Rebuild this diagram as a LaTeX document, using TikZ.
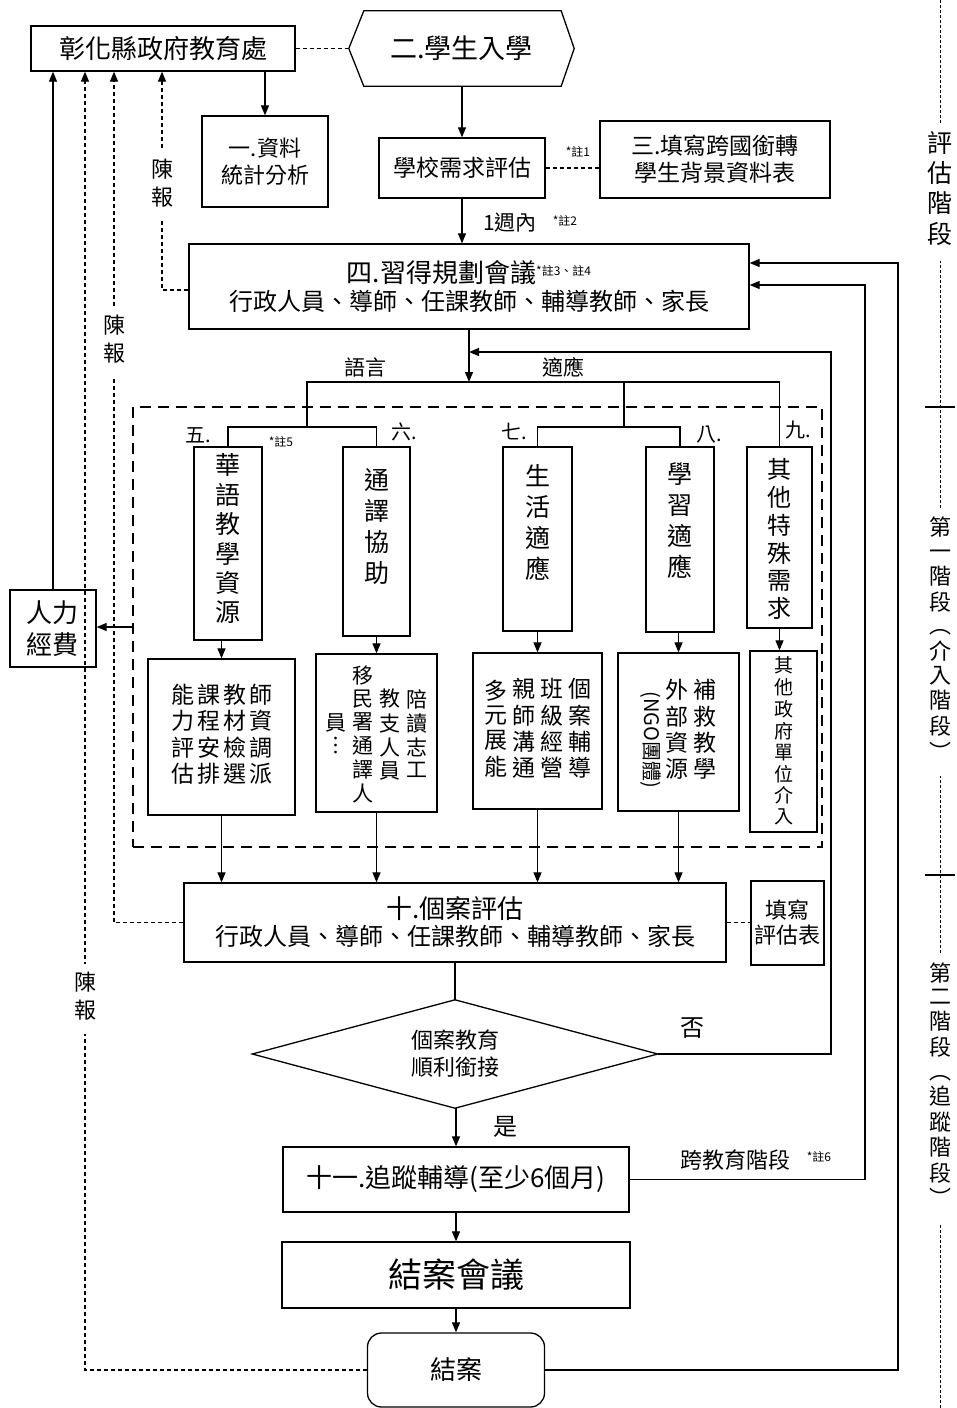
\documentclass[tikz,border=0pt]{standalone}
\usepackage{fontspec}
\usepackage{graphicx}
\setmainfont{Noto Sans CJK TC}
\usetikzlibrary{arrows.meta}
\newcommand{\fsz}[2]{\fontsize{#1}{#2}\selectfont}
\newcommand{\vstk}[1]{\begin{tabular}[c]{@{}c@{}}#1\end{tabular}}
\begin{document}
\begin{tikzpicture}[x=1pt,y=-1pt,
  box/.style={draw,line width=1.3pt,inner sep=0pt,align=center},
  arr/.style={line width=1.2pt,-{Triangle[length=10pt,width=8pt]}},
  ln/.style={line width=1.2pt},
  dsh/.style={line width=1.2pt,dash pattern=on 4pt off 3pt},
  lbl/.style={inner sep=0pt,align=center},
  note/.style={inner sep=0pt,font=\fsz{12}{12}},
  gap/.style={inner sep=0pt,inner ysep=7pt,fill=white,align=center},
]
\fill[white] (0,0) rectangle (957,1408);
\useasboundingbox (0,0) rectangle (957,1408);

% top
\node[box,minimum width=264pt,minimum height=45pt,font=\fsz{26}{26}] (edu) at (163,48.5) {彰化縣政府教育處};
\node[lbl,minimum width=225pt,minimum height=75pt,font=\fsz{27}{27}] (enroll) at (461.5,48.5) {二.學生入學};
\draw[line width=1.3pt] (enroll.west) -- ([xshift=15pt]enroll.north west) -- ([xshift=-13pt]enroll.north east) -- (enroll.east) -- ([xshift=-13pt]enroll.south east) -- ([xshift=15pt]enroll.south west) -- cycle;
\draw[dsh] (edu.east) -- (enroll.west);

\node[box,minimum width=126pt,minimum height=91pt,font=\fsz{22}{27}] (stat) at (265,161.5) {一.資料\\統計分析};
\node[box,minimum width=166pt,minimum height=60pt,font=\fsz{23}{23}] (need) at (462,168) {學校需求評估};
\node[box,minimum width=230pt,minimum height=77pt,font=\fsz{23}{27}] (form) at (715,159.5) {三.填寫跨國銜轉\\學生背景資料表};
\node[note] (n1) at (578,152) {*註1};
\draw[dsh] (need.east) -- (need.east -| form.west);
\draw[arr] (enroll.south -| need.north) -- (need.north);
\draw[arr] (edu.south -| stat.north) -- (stat.north);

% plan
\node[box,minimum width=560pt,minimum height=85pt,font=\fsz{24}{28}] (plan) at (469,286.5) {{\fsz{26}{28}四.習得規劃會議}\raisebox{7pt}{\fsz{12}{12}*註3、註4}\\行政人員、導師、任課教師、輔導教師、家長};
\draw[arr] (need.south) -- (need.south |- plan.north);
\node[lbl,font=\fsz{21}{21}] (wk) at (510,223) {1週內};
\node[note] (n2) at (565,221) {*註2};

% group
\node[draw,line width=2.6pt,dash pattern=on 11pt off 7pt,minimum width=689pt,minimum height=440pt,inner sep=0pt] (grp) at (477.5,627) {};

% top row boxes
\node[box,minimum width=68pt,minimum height=193pt] (t5) at (228,543.5) {};
\node[box,minimum width=67pt,minimum height=189pt] (t6) at (376.5,541.5) {};
\node[box,minimum width=69pt,minimum height=184pt] (t7) at (537.5,539) {};
\node[box,minimum width=68pt,minimum height=185pt] (t8) at (680,539.5) {};
\node[box,minimum width=65pt,minimum height=181pt] (t9) at (779.5,537.5) {};
\node[lbl,font=\fsz{25}{28}] (t5x) at (228,542) {\vstk{華\\語\\教\\學\\資\\源}};
\node[lbl,font=\fsz{25}{31}] (t6x) at (376.5,530) {\vstk{通\\譯\\協\\助}};
\node[lbl,font=\fsz{25}{31}] (t7x) at (537.5,526) {\vstk{生\\活\\適\\應}};
\node[lbl,font=\fsz{25}{31}] (t8x) at (680,524) {\vstk{學\\習\\適\\應}};
\node[lbl,font=\fsz{24}{26.5}] (t9x) at (779.5,542) {\vstk{其\\他\\特\\殊\\需\\求}};

% tree
\coordinate (bus) at (469,382);
\coordinate (j56) at (307,427);
\coordinate (j78) at (624,427);
\draw[arr] (plan.south) -- (bus);
\draw[ln] (t5.north) |- (t6.north |- j56) -- (t6.north);
\draw[ln] (t7.north) |- (t8.north |- j78) -- (t8.north);
\draw[ln] (j56) -- (j56 |- bus) -- (t9.north |- bus) -- (t9.north);
\draw[ln] (j78) -- (j78 |- bus);
\node[lbl,font=\fsz{21}{21}] (lang) at (365,367) {語言};
\node[lbl,font=\fsz{21}{21}] (adapt) at (563,367) {適應};
\node[lbl,font=\fsz{20}{20}] (l5) at (198,435) {五.};
\node[note] (n5) at (281,442) {*註5};
\node[lbl,font=\fsz{20}{20}] (l6) at (404,432) {六.};
\node[lbl,font=\fsz{20}{20}] (l7) at (514,432) {七.};
\node[lbl,font=\fsz{20}{20}] (l8) at (709,435) {八.};
\node[lbl,font=\fsz{20}{20}] (l9) at (798,430) {九.};

% bottom row boxes
\node[box,minimum width=147pt,minimum height=156pt,font=\fsz{23}{24}] (b5) at (221.5,737) {\vstk{能\\力\\評\\估}\hspace{3pt}\vstk{課\\程\\安\\排}\hspace{3pt}\vstk{教\\材\\檢\\選}\hspace{3pt}\vstk{師\\資\\調\\派}};
\node[box,minimum width=121pt,minimum height=158pt] (b6) at (376.5,733) {};
\node[lbl,font=\fsz{21}{21.5}] (b6x) at (376.5,737) {\vstk{員\\︙}\hspace{6pt}\vstk{移\\民\\署\\通\\譯\\人}\hspace{6pt}\vstk{教\\支\\人\\員}\hspace{6pt}\vstk{陪\\讀\\志\\工}};
\node[box,minimum width=129pt,minimum height=156pt,font=\fsz{23}{23}] (b7) at (537.5,731) {\vstk{多\\元\\展\\能}\hspace{5pt}\vstk{親\\師\\溝\\通}\hspace{5pt}\vstk{班\\級\\經\\營}\hspace{5pt}\vstk{個\\案\\輔\\導}};
\node[box,minimum width=121pt,minimum height=158pt,font=\fsz{23}{23}] (b8) at (678.5,732) {\vstk{\rotatebox{-90}{\fsz{20}{20}(NGO團體)}}\hspace{5pt}\vstk{外\\部\\資\\源}\hspace{5pt}\vstk{補\\救\\教\\學}};
\node[box,minimum width=67pt,minimum height=181pt] (b9) at (783.5,741.5) {};
\node[lbl,font=\fsz{19}{19.5}] (b9x) at (783.5,743) {\vstk{其\\他\\政\\府\\單\\位\\介\\入}};

\draw[arr] (t5.south -| b5.north) -- (b5.north);
\draw[arr] (t6.south) -- (b6.north);
\draw[arr] (t7.south) -- (b7.north);
\draw[arr] (t8.south -| b8.north) -- (b8.north);
\draw[arr] (t9.south) -- (t9.south |- b9.north);

% human resources
\node[box,minimum width=86pt,minimum height=77pt,font=\fsz{26}{32}] (hr) at (53,628.5) {人力\\經費};
\draw[arr] (grp.west) -- (grp.west -| hr.east);
\draw[arr] (hr.north) -- (hr.north |- edu.south);

% case evaluation
\node[box,minimum width=542pt,minimum height=79pt,font=\fsz{24}{27}] (ten) at (455,922.5) {{\fsz{26}{27}十.個案評估}\\行政人員、導師、任課教師、輔導教師、家長};
\node[box,minimum width=73pt,minimum height=84pt,font=\fsz{22}{25}] (evalf) at (787.5,923) {填寫\\評估表};
\draw[dsh] (ten.east) -- (ten.east -| evalf.west);
\draw[arr] (b5.south) -- (b5.south |- ten.north);
\draw[arr] (b6.south) -- (b6.south |- ten.north);
\draw[arr] (b7.south) -- (b7.south |- ten.north);
\draw[arr] (b8.south) -- (b8.south |- ten.north);

% decision
\node[lbl,minimum width=405pt,minimum height=108pt,font=\fsz{22}{27}] (dec) at (455,1054) {個案教育\\順利銜接};
\draw[line width=1.3pt] (dec.north) -- (dec.east) -- (dec.south) -- (dec.west) -- cycle;
\draw[ln] (ten.south) -- (dec.north);
\node[lbl,font=\fsz{24}{24}] (no) at (692,1028) {否};
\node[lbl,font=\fsz{24}{24}] (yes) at (505,1127) {是};
\coordinate (nr) at (831,352);
\draw[arr] (dec.east) -| (nr) -- (nr -| plan.south);

% follow-up
\node[box,minimum width=346pt,minimum height=65pt,font=\fsz{26}{26}] (follow) at (456,1179.5) {十一.追蹤輔導(至少6個月)};
\node[box,minimum width=348pt,minimum height=66pt,font=\fsz{34}{34}] (meet) at (456,1275) {結案會議};
\node[box,rounded corners=14pt,minimum width=177pt,minimum height=74pt,font=\fsz{26}{26}] (close) at (456,1370) {結案};
\draw[arr] (dec.south -| follow.north) -- (follow.north);
\draw[arr] (follow.south) -- (meet.north);
\draw[arr] (meet.south) -- (close.north);
\coordinate (lp1) at (865,285);
\coordinate (lp2) at (898,263);
\draw[arr] (follow.east) -| (lp1) -- (lp1 -| plan.east);
\draw[arr] (close.east) -| (lp2) -- (lp2 -| plan.east);
\node[lbl,font=\fsz{22}{22}] (cross) at (735,1160) {跨教育階段};
\node[note] (n6) at (819,1157) {*註6};

% report lines
\coordinate (rp1) at (162,290);
\coordinate (rp2) at (114,0);
\coordinate (rp3) at (85,0);
\draw[dsh,-{Triangle[length=10pt,width=8pt]}] (plan.west |- rp1) -- (rp1) -- (rp1 |- edu.south);
\draw[dsh,-{Triangle[length=10pt,width=8pt]}] (ten.west) -- (ten.west -| rp2) -- (rp2 |- edu.south);
\draw[dsh,-{Triangle[length=10pt,width=8pt]}] (close.west) -- (close.west -| rp3) -- (rp3 |- edu.south);
\node[gap,font=\fsz{22}{28}] (cb1) at (162,186) {\vstk{陳\\報}};
\node[gap,font=\fsz{22}{28}] (cb2) at (114,342) {\vstk{陳\\報}};
\node[gap,font=\fsz{22}{28}] (cb3) at (85,999) {\vstk{陳\\報}};

% stage column
\coordinate (st0) at (940,0);
\coordinate (st1) at (940,1408);
\draw[line width=1pt,dash pattern=on 3pt off 2pt] (st0) -- (st1);
\draw[line width=1.2pt] (925,407) -- (955,407);
\draw[line width=1.2pt] (925,875) -- (955,875);
\node[gap,inner ysep=9pt,font=\fsz{25}{30}] (s1) at (940,192) {\vstk{評\\估\\階\\段}};
\node[gap,inner ysep=9pt,font=\fsz{22}{23.5}] (s2) at (940,642) {\vstk{第\\一\\階\\段\\︵\\介\\入\\階\\段\\︶}};
\node[gap,inner ysep=9pt,font=\fsz{22}{23.5}] (s3) at (940,1088) {\vstk{第\\二\\階\\段\\︵\\追\\蹤\\階\\段\\︶}};
\end{tikzpicture}
\end{document}
